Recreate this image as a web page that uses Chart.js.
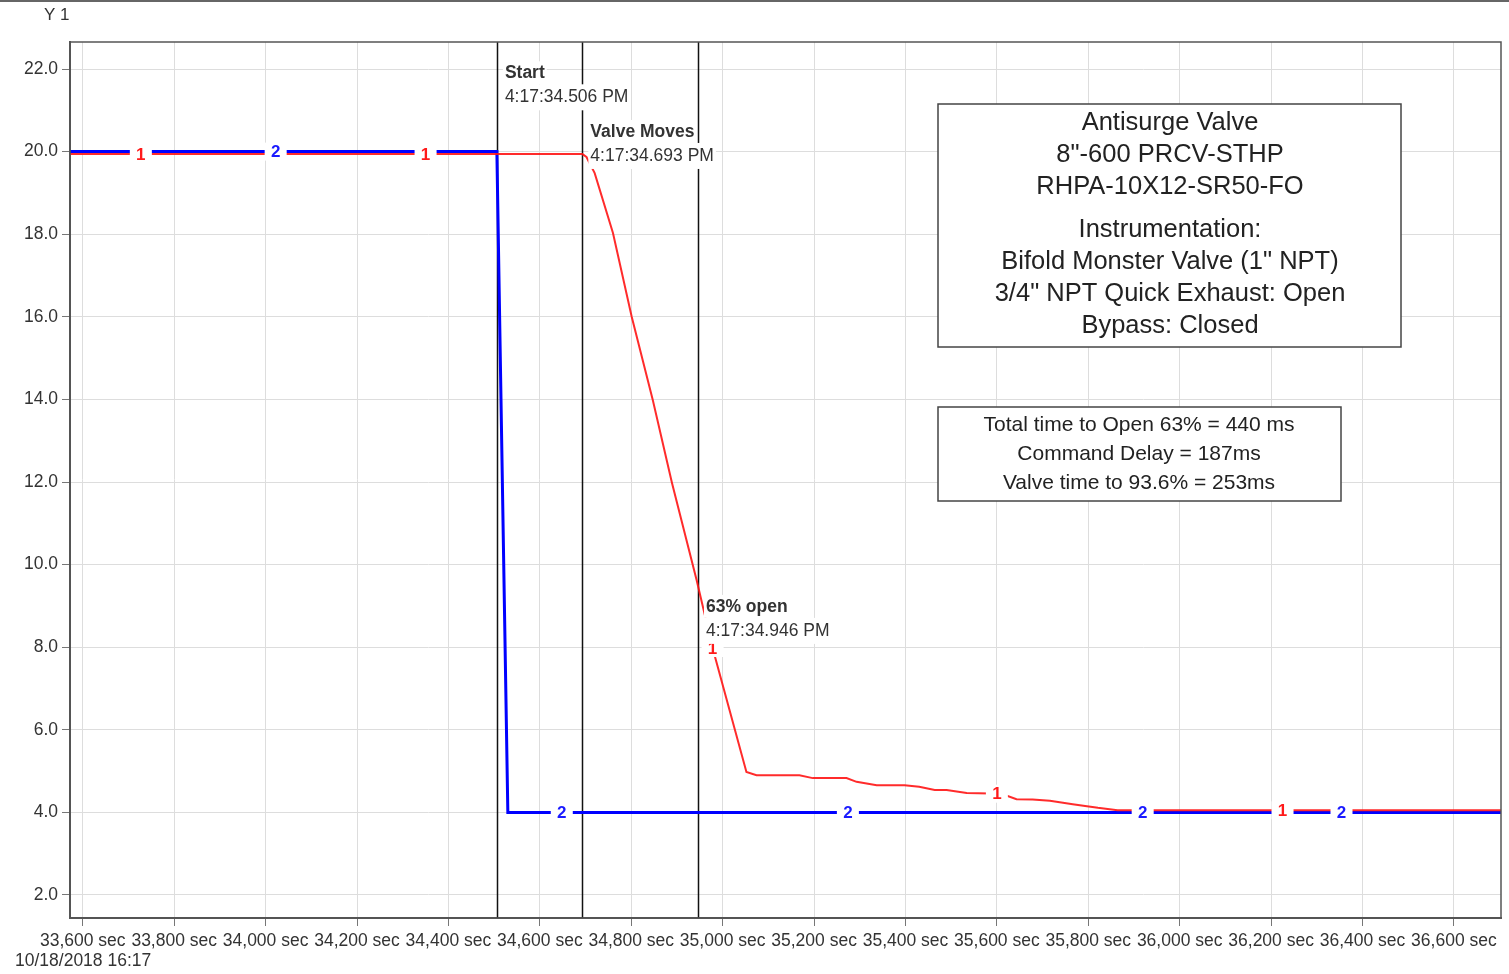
<!DOCTYPE html>
<html>
<head>
<meta charset="utf-8">
<script src="https://cdn.jsdelivr.net/npm/chart.js@4.4.0/dist/chart.umd.min.js"></script>
<style>
    html, body { margin: 0; padding: 0; background: #fff; }
    canvas { display: block; }
</style>
</head>
<body>
<canvas id="valveChart" width="1509" height="974"></canvas>
<script>
// series 1 (red) - valve position signal
const timeRed = [33572, 34693, 34702, 34720, 34760, 34801, 34847, 34889, 34943, 34978,
    35052, 35074, 35168, 35197, 35271, 35293, 35337, 35398, 35430, 35464, 35490, 35534, 35610,
    35643, 35678, 35716, 35766, 35797, 35821, 35864, 36703];
const valueRed = [19.94, 19.94, 19.87, 19.48, 18.03, 16.0, 13.99, 11.98, 9.63, 7.98,
    4.98, 4.9, 4.9, 4.83, 4.83, 4.74, 4.66, 4.66, 4.62, 4.54, 4.54, 4.47, 4.45,
    4.32, 4.31, 4.28, 4.2, 4.15, 4.11, 4.05, 4.05];

// series 2 (blue) - command signal
const timeBlue = [33572, 34506, 34530, 36703];
const valueBlue = [20.0, 20.0, 4.0, 4.0];

// where the "1" / "2" trace ids sit along each line
const markerTimeRed = [33727, 34350, 34978, 35600, 36225];
const markerTimeBlue = [34022, 34648, 35274, 35919, 36354];

// event cursors
const eventTime = [34506, 34693, 34946];
const eventTitle = ['Start', 'Valve Moves', '63% open'];
const eventStamp = ['4:17:34.506 PM', '4:17:34.693 PM', '4:17:34.946 PM'];
const eventLabelY = [21.92, 20.5, 9.0];

const xTicks = [33600, 33800, 34000, 34200, 34400, 34600, 34800, 35000, 35200, 35400, 35600, 35800, 36000, 36200, 36400, 36600];
const yTicks = [2, 4, 6, 8, 10, 12, 14, 16, 18, 20, 22];

const infoLines = ['Antisurge Valve', '8"-600 PRCV-STHP', 'RHPA-10X12-SR50-FO', '', 'Instrumentation:',
    'Bifold Monster Valve (1" NPT)', '3/4" NPT Quick Exhaust: Open', 'Bypass: Closed'];
const timingLines = ['Total time to Open 63% = 440 ms', 'Command Delay = 187ms', 'Valve time to 93.6% = 253ms'];

const FONT = '"Liberation Sans", Arial, sans-serif';
const TEXT = '#333';

function toPoints(xs, ys) {
    return xs.map((x, i) => ({ x: x, y: ys[i] }));
}

function valueAt(xs, ys, t) {
    for (let i = 1; i < xs.length; i++) {
        if (t <= xs[i]) {
            const f = (t - xs[i - 1]) / (xs[i] - xs[i - 1]);
            return ys[i - 1] + f * (ys[i] - ys[i - 1]);
        }
    }
    return ys[ys.length - 1];
}

const cursorLines = {
    id: 'cursorLines',
    beforeDatasetsDraw(chart) {
        const { ctx, chartArea, scales } = chart;
        ctx.save();
        ctx.strokeStyle = '#111';
        ctx.lineWidth = 1.5;
        eventTime.forEach(t => {
            const px = Math.round(scales.x.getPixelForValue(t)) + 0.5;
            ctx.beginPath();
            ctx.moveTo(px, chartArea.top);
            ctx.lineTo(px, chartArea.bottom);
            ctx.stroke();
        });
        ctx.restore();
    },
    afterDatasetsDraw(chart) {
        const { ctx, scales } = chart;
        ctx.save();

        // trace id markers
        const traces = [
            { xs: timeRed, ys: valueRed, marks: markerTimeRed, txt: '1', color: '#ff1a1a' },
            { xs: timeBlue, ys: valueBlue, marks: markerTimeBlue, txt: '2', color: '#1a1aff' }
        ];
        ctx.font = 'bold 17px ' + FONT;
        ctx.textAlign = 'center';
        ctx.textBaseline = 'middle';
        traces.forEach(tr => {
            tr.marks.forEach(t => {
                const px = scales.x.getPixelForValue(t);
                const py = scales.y.getPixelForValue(valueAt(tr.xs, tr.ys, t));
                ctx.fillStyle = '#fff';
                ctx.fillRect(px - 11, py - 9, 22, 18);
                ctx.fillStyle = tr.color;
                ctx.fillText(tr.txt, px, py + 1);
            });
        });

        // cursor labels
        ctx.textAlign = 'left';
        eventTime.forEach((t, i) => {
            const px = scales.x.getPixelForValue(t) + 8;
            const py = scales.y.getPixelForValue(eventLabelY[i]);
            ctx.font = 'bold 17.5px ' + FONT;
            let w = ctx.measureText(eventTitle[i]).width;
            ctx.fillStyle = '#fff';
            ctx.fillRect(px - 2, py - 11, w + 4, 23);
            ctx.fillStyle = TEXT;
            ctx.fillText(eventTitle[i], px, py + 1);
            ctx.font = '17.5px ' + FONT;
            w = ctx.measureText(eventStamp[i]).width;
            ctx.fillStyle = '#fff';
            ctx.fillRect(px - 2, py + 12, w + 4, 26);
            ctx.fillStyle = TEXT;
            ctx.fillText(eventStamp[i], px, py + 25);
        });
        ctx.restore();
    },
    afterDraw(chart) {
        const { ctx, chartArea } = chart;
        ctx.save();

        // page top rule and plot frame
        ctx.strokeStyle = '#666';
        ctx.lineWidth = 2;
        ctx.beginPath();
        ctx.moveTo(0, 1);
        ctx.lineTo(chart.width, 1);
        ctx.stroke();
        ctx.strokeStyle = '#555';
        ctx.lineWidth = 1.5;
        ctx.strokeRect(chartArea.left, chartArea.top, chartArea.right - chartArea.left, chartArea.bottom - chartArea.top);

        ctx.fillStyle = TEXT;
        ctx.font = '17px ' + FONT;
        ctx.textAlign = 'left';
        ctx.textBaseline = 'middle';
        ctx.fillText('Y 1', 44, 15);
        ctx.font = '17.5px ' + FONT;
        ctx.fillText('10/18/2018 16:17', 15, 961);

        // description box
        ctx.fillStyle = '#fff';
        ctx.fillRect(938, 104, 463, 243);
        ctx.strokeStyle = '#444';
        ctx.lineWidth = 1.5;
        ctx.strokeRect(938, 104, 463, 243);
        ctx.fillStyle = '#222';
        ctx.font = '25.5px ' + FONT;
        ctx.textAlign = 'center';
        let y = 123;
        infoLines.forEach(line => {
            if (line === '') { y += 11; return; }
            ctx.fillText(line, 1170, y);
            y += 32;
        });

        // timing box
        ctx.fillStyle = '#fff';
        ctx.fillRect(938, 407, 403, 94);
        ctx.strokeRect(938, 407, 403, 94);
        ctx.fillStyle = '#222';
        ctx.font = '21px ' + FONT;
        timingLines.forEach((line, i) => {
            ctx.fillText(line, 1139, 425 + i * 29);
        });
        ctx.restore();
    }
};

const ctx = document.getElementById('valveChart').getContext('2d');
const chart = new Chart(ctx, {
    type: 'line',
    data: {
        datasets: [
            {
                label: '1',
                data: toPoints(timeRed, valueRed),
                borderColor: 'rgba(255, 20, 20, 0.9)',
                borderWidth: 2,
                pointRadius: 0,
                tension: 0
            },
            {
                label: '2',
                data: toPoints(timeBlue, valueBlue),
                borderColor: '#0000ff',
                borderWidth: 3,
                pointRadius: 0,
                tension: 0
            }
        ]
    },
    options: {
        responsive: false,
        animation: false,
        layout: { padding: { top: 42, right: 8, left: 0, bottom: 0 } },
        plugins: { legend: { display: false }, tooltip: { enabled: false } },
        scales: {
            x: {
                type: 'linear',
                min: 33572,
                max: 36703,
                afterBuildTicks: s => { s.ticks = xTicks.map(v => ({ value: v })); },
                afterFit: s => { s.height = 56; },
                ticks: {
                    autoSkip: false,
                    maxRotation: 0,
                    padding: 5,
                    color: TEXT,
                    font: { size: 17.5, family: FONT },
                    callback: v => v.toLocaleString('en-US') + ' sec'
                },
                grid: { color: '#dddddd', tickColor: '#777', tickLength: 8 },
                border: { color: '#555', width: 2 }
            },
            y: {
                min: 1.443,
                max: 22.654,
                afterBuildTicks: s => { s.ticks = yTicks.map(v => ({ value: v })); },
                afterFit: s => { s.width = 70; },
                ticks: {
                    padding: 4,
                    color: TEXT,
                    font: { size: 17.5, family: FONT },
                    callback: v => v.toFixed(1)
                },
                grid: { color: '#dddddd', tickColor: '#777', tickLength: 8 },
                border: { color: '#555', width: 2 }
            }
        }
    },
    plugins: [cursorLines]
});
</script>
</body>
</html>
